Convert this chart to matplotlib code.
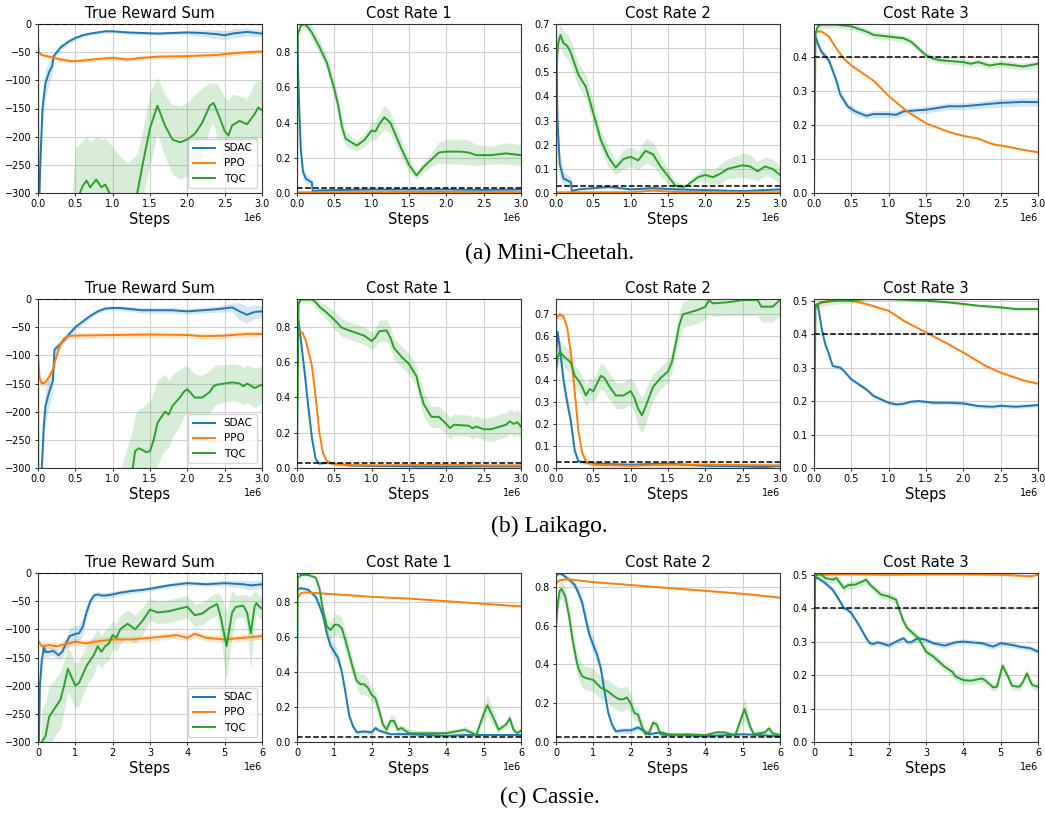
import matplotlib
matplotlib.use('Agg')
import matplotlib.pyplot as plt
from matplotlib.ticker import MultipleLocator

# Schritte in Millionen, Mittelwert und halbe Bandbreite

# --- (a) Mini-Cheetah ---
mc_rew_sdac_x = [0, 0.03, 0.06, 0.1, 0.15, 0.19, 0.21, 0.3, 0.4, 0.5, 0.6, 0.7, 0.8, 0.9, 1.0, 1.2, 1.4, 1.6, 1.8, 2.0, 2.2, 2.4, 2.5, 2.6, 2.8, 3.0]
mc_rew_sdac_y = [-400, -250, -150, -105, -85, -75, -57, -42, -32, -25, -20, -17, -15, -13, -13, -15, -16, -17, -16, -15, -16, -18, -20, -17, -14, -17]
mc_rew_sdac_b = [40, 40, 30, 25, 20, 15, 6, 6, 5, 4, 3, 3, 3, 3, 3, 3, 3, 3, 3, 4, 6, 8, 8, 8, 7, 6]
mc_rew_ppo_x = [0, 0.01, 0.05, 0.15, 0.3, 0.45, 0.6, 0.8, 1.0, 1.2, 1.4, 1.6, 2.0, 2.4, 2.6, 2.8, 3.0]
mc_rew_ppo_y = [-35, -50, -55, -58, -63, -66, -65, -62, -60, -63, -60, -58, -57, -55, -52, -50, -49]
mc_rew_ppo_b = 4
mc_rew_tqc_x = [0, 0.005, 0.45, 0.5, 0.6, 0.65, 0.7, 0.78, 0.85, 0.9, 0.95, 1.0, 1.1, 1.2, 1.33, 1.4, 1.5, 1.6, 1.7, 1.8, 1.9, 2.0, 2.1, 2.2, 2.3, 2.35, 2.4, 2.5, 2.55, 2.6, 2.7, 2.8, 2.9, 2.95, 3.0]
mc_rew_tqc_y = [0, -420, -420, -320, -287, -278, -290, -276, -290, -285, -298, -310, -330, -330, -300, -250, -185, -145, -180, -205, -210, -205, -195, -175, -145, -140, -155, -190, -198, -180, -172, -178, -160, -148, -153]
mc_rew_tqc_b = [0, 100, 100, 100, 80, 78, 80, 76, 85, 85, 88, 92, 95, 82, 70, 60, 65, 50, 55, 62, 65, 65, 70, 62, 40, 35, 50, 60, 62, 55, 45, 45, 55, 50, 50]

mc_c1_sdac_x = [0, 0.02, 0.05, 0.08, 0.12, 0.2, 0.21, 0.3, 1.0, 1.5, 2.0, 2.5, 3.0]
mc_c1_sdac_y = [0.96, 0.6, 0.25, 0.12, 0.08, 0.06, 0.01, 0.015, 0.02, 0.02, 0.02, 0.018, 0.02]
mc_c1_sdac_b = [0.0, 0.05, 0.05, 0.04, 0.03, 0.02, 0.005, 0.005, 0.008, 0.008, 0.005, 0.005, 0.008]
mc_c1_ppo_x = [0, 1.0, 2.0, 3.0]
mc_c1_ppo_y = [0.004, 0.005, 0.006, 0.005]
mc_c1_ppo_b = 0.002
mc_c1_tqc_x = [0, 0.01, 0.05, 0.1, 0.15, 0.2, 0.3, 0.4, 0.5, 0.55, 0.6, 0.65, 0.7, 0.8, 0.9, 1.0, 1.05, 1.1, 1.17, 1.25, 1.3, 1.4, 1.5, 1.6, 1.7, 1.8, 1.9, 2.0, 2.2, 2.3, 2.4, 2.6, 2.8, 3.0]
mc_c1_tqc_y = [0, 0.9, 0.95, 0.96, 0.94, 0.91, 0.83, 0.74, 0.59, 0.5, 0.38, 0.31, 0.295, 0.27, 0.3, 0.355, 0.35, 0.39, 0.43, 0.4, 0.35, 0.25, 0.16, 0.1, 0.15, 0.19, 0.23, 0.235, 0.235, 0.23, 0.215, 0.215, 0.225, 0.215]
mc_c1_tqc_b = [0, 0.02, 0.02, 0.02, 0.03, 0.04, 0.04, 0.04, 0.05, 0.05, 0.05, 0.04, 0.04, 0.03, 0.04, 0.05, 0.05, 0.06, 0.07, 0.06, 0.06, 0.05, 0.04, 0.02, 0.03, 0.04, 0.06, 0.07, 0.07, 0.07, 0.06, 0.05, 0.06, 0.06]

mc_c2_sdac_x = [0, 0.02, 0.05, 0.1, 0.2, 0.21, 0.3, 0.7, 0.8, 1.0, 1.3, 1.6, 2.0, 2.5, 3.0]
mc_c2_sdac_y = [0.7, 0.3, 0.12, 0.06, 0.045, 0.008, 0.015, 0.025, 0.022, 0.015, 0.02, 0.015, 0.012, 0.008, 0.015]
mc_c2_sdac_b = [0, 0.05, 0.05, 0.03, 0.02, 0.005, 0.005, 0.006, 0.006, 0.006, 0.008, 0.006, 0.005, 0.005, 0.005]
mc_c2_ppo_x = [0, 1.0, 1.3, 1.6, 3.0]
mc_c2_ppo_y = [0.003, 0.003, 0.01, 0.004, 0.003]
mc_c2_ppo_b = 0.002
mc_c2_tqc_x = [0, 0.01, 0.03, 0.06, 0.1, 0.15, 0.2, 0.3, 0.4, 0.5, 0.6, 0.7, 0.8, 0.9, 1.0, 1.1, 1.2, 1.3, 1.4, 1.5, 1.6, 1.7, 1.75, 1.9, 2.0, 2.1, 2.2, 2.3, 2.5, 2.6, 2.7, 2.8, 2.9, 3.0]
mc_c2_tqc_y = [0, 0.55, 0.62, 0.655, 0.62, 0.61, 0.58, 0.49, 0.44, 0.33, 0.22, 0.15, 0.105, 0.14, 0.15, 0.135, 0.175, 0.16, 0.11, 0.07, 0.03, 0.025, 0.03, 0.065, 0.075, 0.065, 0.08, 0.1, 0.115, 0.11, 0.09, 0.11, 0.1, 0.075]
mc_c2_tqc_b = [0, 0.04, 0.05, 0.05, 0.05, 0.05, 0.05, 0.05, 0.05, 0.05, 0.04, 0.04, 0.03, 0.04, 0.04, 0.04, 0.05, 0.05, 0.04, 0.03, 0.02, 0.01, 0.01, 0.02, 0.03, 0.03, 0.04, 0.04, 0.05, 0.05, 0.04, 0.04, 0.04, 0.04]

mc_c3_sdac_x = [0, 0.05, 0.1, 0.2, 0.3, 0.35, 0.45, 0.55, 0.7, 0.8, 1.0, 1.1, 1.2, 1.5, 1.8, 2.0, 2.5, 2.8, 3.0]
mc_c3_sdac_y = [0.475, 0.44, 0.415, 0.39, 0.33, 0.29, 0.255, 0.24, 0.227, 0.232, 0.232, 0.23, 0.24, 0.245, 0.255, 0.255, 0.265, 0.268, 0.267]
mc_c3_sdac_b = [0.005, 0.01, 0.01, 0.012, 0.012, 0.012, 0.012, 0.01, 0.01, 0.01, 0.01, 0.01, 0.01, 0.01, 0.01, 0.01, 0.012, 0.012, 0.012]
mc_c3_ppo_x = [0, 0.05, 0.1, 0.2, 0.3, 0.4, 0.5, 0.7, 0.8, 1.0, 1.25, 1.5, 1.8, 2.0, 2.2, 2.4, 2.6, 2.8, 3.0]
mc_c3_ppo_y = [0.47, 0.475, 0.475, 0.46, 0.425, 0.395, 0.375, 0.345, 0.33, 0.285, 0.24, 0.205, 0.18, 0.168, 0.16, 0.143, 0.136, 0.127, 0.12]
mc_c3_ppo_b = 0.003
mc_c3_tqc_x = [0, 0.02, 0.05, 0.1, 0.3, 0.5, 0.7, 0.8, 1.0, 1.2, 1.3, 1.4, 1.5, 1.6, 1.7, 2.0, 2.1, 2.2, 2.35, 2.5, 2.7, 2.8, 3.0]
mc_c3_tqc_y = [0, 0.47, 0.49, 0.495, 0.495, 0.49, 0.475, 0.465, 0.46, 0.455, 0.445, 0.425, 0.405, 0.395, 0.39, 0.385, 0.38, 0.385, 0.375, 0.38, 0.375, 0.372, 0.38]
mc_c3_tqc_b = 0.01

# --- (b) Laikago ---
lk_rew_sdac_x = [0, 0.05, 0.08, 0.1, 0.15, 0.2, 0.22, 0.3, 0.4, 0.5, 0.6, 0.7, 0.8, 0.9, 1.0, 1.1, 1.4, 1.6, 1.8, 2.0, 2.2, 2.4, 2.6, 2.7, 2.8, 2.9, 3.0]
lk_rew_sdac_y = [-400, -300, -220, -190, -165, -145, -90, -80, -65, -50, -40, -30, -22, -17, -16, -16, -20, -20, -20, -22, -20, -18, -15, -22, -28, -23, -22]
lk_rew_sdac_b = [30, 30, 30, 30, 25, 20, 8, 7, 6, 5, 5, 4, 4, 4, 4, 4, 5, 5, 5, 5, 5, 5, 8, 15, 15, 12, 10]
lk_rew_ppo_x = [0, 0.02, 0.05, 0.1, 0.15, 0.2, 0.25, 0.3, 0.35, 0.4, 0.5, 1.0, 1.5, 2.0, 2.2, 2.5, 2.8, 3.0]
lk_rew_ppo_y = [-100, -140, -150, -148, -138, -125, -100, -80, -70, -66, -65, -64, -63, -64, -66, -65, -62, -62]
lk_rew_ppo_b = [10, 10, 8, 8, 8, 8, 8, 6, 5, 5, 5, 5, 5, 5, 5, 5, 5, 5]
lk_rew_tqc_x = [0, 0.005, 0.8, 1.1, 1.27, 1.3, 1.35, 1.4, 1.45, 1.5, 1.55, 1.6, 1.7, 1.75, 1.8, 1.9, 1.95, 2.0, 2.1, 2.2, 2.3, 2.35, 2.4, 2.5, 2.6, 2.7, 2.75, 2.8, 2.9, 3.0]
lk_rew_tqc_y = [0, -450, -420, -380, -300, -270, -265, -268, -272, -270, -250, -220, -200, -205, -190, -175, -165, -160, -175, -175, -165, -155, -152, -150, -148, -150, -155, -150, -158, -152]
lk_rew_tqc_b = [0, 60, 60, 75, 70, 65, 70, 75, 85, 90, 85, 75, 67, 60, 55, 50, 45, 42, 42, 40, 38, 36, 35, 33, 33, 33, 33, 33, 35, 33]

lk_c1_sdac_x = [0, 0.03, 0.1, 0.15, 0.2, 0.25, 0.3, 0.4, 0.5, 0.7, 1.0, 1.5, 2.0, 2.5, 3.0]
lk_c1_sdac_y = [0.9, 0.8, 0.55, 0.35, 0.17, 0.05, 0.025, 0.03, 0.025, 0.015, 0.012, 0.01, 0.008, 0.01, 0.01]
lk_c1_sdac_b = [0.02, 0.03, 0.04, 0.04, 0.03, 0.02, 0.008, 0.008, 0.008, 0.005, 0.005, 0.005, 0.005, 0.005, 0.005]
lk_c1_ppo_x = [0, 0.03, 0.07, 0.12, 0.2, 0.25, 0.3, 0.35, 0.4, 0.5, 1.0, 2.0, 2.5, 3.0]
lk_c1_ppo_y = [0.75, 0.77, 0.77, 0.72, 0.58, 0.4, 0.2, 0.08, 0.04, 0.02, 0.015, 0.018, 0.015, 0.015]
lk_c1_ppo_b = 0.01
lk_c1_tqc_x = [0, 0.02, 0.05, 0.2, 0.25, 0.3, 0.4, 0.5, 0.6, 0.7, 0.8, 0.9, 1.0, 1.05, 1.1, 1.2, 1.25, 1.3, 1.4, 1.5, 1.6, 1.65, 1.7, 1.8, 1.9, 2.0, 2.05, 2.1, 2.3, 2.35, 2.4, 2.5, 2.6, 2.8, 2.85, 2.9, 2.95, 3.0]
lk_c1_tqc_y = [0, 0.93, 0.955, 0.955, 0.94, 0.915, 0.88, 0.84, 0.795, 0.78, 0.765, 0.75, 0.72, 0.74, 0.775, 0.78, 0.74, 0.68, 0.63, 0.59, 0.52, 0.43, 0.36, 0.29, 0.29, 0.25, 0.225, 0.245, 0.24, 0.225, 0.235, 0.22, 0.22, 0.245, 0.265, 0.25, 0.26, 0.235]
lk_c1_tqc_b = [0, 0.02, 0.02, 0.02, 0.03, 0.03, 0.04, 0.05, 0.05, 0.05, 0.05, 0.05, 0.05, 0.05, 0.06, 0.06, 0.06, 0.06, 0.06, 0.06, 0.06, 0.07, 0.07, 0.06, 0.06, 0.06, 0.06, 0.06, 0.06, 0.06, 0.06, 0.06, 0.07, 0.07, 0.07, 0.07, 0.07, 0.07]

lk_c2_sdac_x = [0, 0.02, 0.05, 0.1, 0.15, 0.2, 0.25, 0.3, 0.4, 0.5, 1.0, 1.5, 2.0, 2.5, 2.8, 3.0]
lk_c2_sdac_y = [0.5, 0.62, 0.55, 0.4, 0.3, 0.21, 0.08, 0.03, 0.025, 0.02, 0.015, 0.02, 0.01, 0.008, 0.005, 0.01]
lk_c2_sdac_b = [0.03, 0.03, 0.04, 0.04, 0.04, 0.03, 0.02, 0.01, 0.01, 0.008, 0.005, 0.005, 0.005, 0.005, 0.005, 0.005]
lk_c2_ppo_x = [0, 0.05, 0.1, 0.15, 0.2, 0.25, 0.3, 0.35, 0.4, 0.5, 1.0, 1.5, 2.0, 3.0]
lk_c2_ppo_y = [0.68, 0.7, 0.69, 0.64, 0.52, 0.35, 0.17, 0.07, 0.03, 0.015, 0.01, 0.015, 0.015, 0.012]
lk_c2_ppo_b = 0.015
lk_c2_tqc_x = [0, 0.02, 0.05, 0.1, 0.2, 0.25, 0.3, 0.35, 0.4, 0.45, 0.5, 0.6, 0.65, 0.7, 0.8, 0.9, 1.0, 1.05, 1.1, 1.15, 1.2, 1.3, 1.4, 1.5, 1.55, 1.6, 1.65, 1.7, 1.8, 1.9, 2.0, 2.05, 2.1, 2.3, 2.5, 2.7, 2.75, 2.9, 3.0]
lk_c2_tqc_y = [0.44, 0.5, 0.53, 0.51, 0.48, 0.42, 0.4, 0.37, 0.33, 0.36, 0.35, 0.42, 0.41, 0.38, 0.33, 0.33, 0.35, 0.32, 0.27, 0.24, 0.28, 0.37, 0.41, 0.44, 0.48, 0.56, 0.65, 0.7, 0.71, 0.72, 0.735, 0.765, 0.75, 0.755, 0.765, 0.765, 0.735, 0.735, 0.765]
lk_c2_tqc_b = [0.04, 0.04, 0.05, 0.05, 0.05, 0.05, 0.05, 0.05, 0.05, 0.05, 0.05, 0.06, 0.06, 0.06, 0.06, 0.06, 0.06, 0.07, 0.08, 0.08, 0.08, 0.06, 0.05, 0.05, 0.05, 0.05, 0.06, 0.06, 0.06, 0.06, 0.06, 0.06, 0.06, 0.06, 0.07, 0.07, 0.07, 0.07, 0.07]

lk_c3_sdac_x = [0, 0.05, 0.1, 0.15, 0.2, 0.25, 0.35, 0.4, 0.5, 0.6, 0.7, 0.8, 0.9, 1.0, 1.1, 1.2, 1.3, 1.4, 1.6, 1.8, 2.0, 2.2, 2.4, 2.5, 2.7, 3.0]
lk_c3_sdac_y = [0.485, 0.49, 0.42, 0.37, 0.34, 0.305, 0.3, 0.29, 0.265, 0.25, 0.235, 0.215, 0.205, 0.195, 0.19, 0.192, 0.198, 0.2, 0.195, 0.195, 0.193, 0.185, 0.183, 0.186, 0.183, 0.188]
lk_c3_sdac_b = 0.006
lk_c3_ppo_x = [0, 0.1, 0.3, 0.5, 0.7, 1.0, 1.2, 1.5, 1.8, 2.0, 2.3, 2.5, 2.8, 3.0]
lk_c3_ppo_y = [0.48, 0.495, 0.505, 0.5, 0.49, 0.47, 0.44, 0.405, 0.37, 0.345, 0.305, 0.285, 0.262, 0.252]
lk_c3_ppo_b = 0.004
lk_c3_tqc_x = [0, 0.02, 0.05, 0.1, 0.3, 0.5, 0.7, 1.0, 1.5, 1.8, 2.0, 2.2, 2.5, 2.7, 3.0]
lk_c3_tqc_y = [0, 0.48, 0.49, 0.495, 0.5, 0.5, 0.505, 0.505, 0.5, 0.495, 0.49, 0.485, 0.48, 0.475, 0.475]
lk_c3_tqc_b = [0, 0.01, 0.012, 0.012, 0.01, 0.008, 0.005, 0.004, 0.004, 0.004, 0.004, 0.004, 0.005, 0.006, 0.006]

# --- (c) Cassie ---
cs_rew_sdac_x = [0, 0.05, 0.1, 0.16, 0.2, 0.3, 0.4, 0.5, 0.55, 0.65, 0.75, 0.85, 1.0, 1.1, 1.2, 1.3, 1.4, 1.5, 1.6, 1.7, 1.8, 2.0, 2.2, 2.5, 2.8, 3.0, 3.5, 4.0, 4.5, 5.0, 5.5, 5.7, 6.0]
cs_rew_sdac_y = [-400, -200, -155, -133, -140, -140, -138, -143, -146, -140, -125, -112, -108, -107, -95, -70, -50, -40, -38, -40, -40, -38, -35, -32, -30, -28, -22, -18, -20, -18, -20, -22, -20]
cs_rew_sdac_b = [30, 30, 25, 15, 10, 8, 8, 8, 8, 10, 12, 15, 15, 15, 15, 12, 8, 5, 5, 5, 5, 5, 5, 5, 4, 4, 4, 4, 4, 5, 7, 8, 7]
cs_rew_ppo_x = [0, 0.1, 0.3, 0.5, 0.7, 1.0, 1.3, 1.5, 2.0, 2.5, 3.0, 3.5, 3.7, 4.0, 4.2, 4.5, 5.0, 5.5, 6.0]
cs_rew_ppo_y = [-120, -130, -128, -130, -127, -122, -125, -122, -118, -118, -115, -112, -110, -115, -108, -115, -118, -115, -112]
cs_rew_ppo_b = 6
cs_rew_tqc_x = [0, 0.005, 0.1, 0.2, 0.3, 0.4, 0.5, 0.6, 0.7, 0.8, 0.9, 1.0, 1.1, 1.3, 1.4, 1.5, 1.6, 1.7, 1.8, 1.9, 2.0, 2.1, 2.2, 2.4, 2.6, 2.8, 3.0, 3.2, 3.5, 3.8, 4.0, 4.2, 4.4, 4.6, 4.8, 4.9, 5.05, 5.2, 5.3, 5.5, 5.6, 5.7, 5.8, 5.85, 5.9, 6.0]
cs_rew_tqc_y = [0, -400, -300, -290, -255, -245, -235, -225, -200, -170, -185, -200, -195, -165, -155, -145, -130, -140, -130, -125, -110, -115, -100, -90, -100, -85, -65, -70, -68, -63, -60, -75, -72, -62, -55, -80, -130, -70, -60, -58, -70, -107, -60, -53, -58, -63]
cs_rew_tqc_b = [0, 40, 60, 60, 55, 50, 50, 50, 45, 40, 40, 40, 40, 35, 35, 35, 30, 30, 30, 30, 25, 25, 25, 25, 25, 25, 20, 20, 20, 20, 20, 20, 20, 20, 20, 40, 60, 40, 20, 20, 30, 65, 30, 20, 20, 20]

cs_c1_sdac_x = [0, 0.1, 0.3, 0.5, 0.6, 0.7, 0.8, 0.9, 1.1, 1.2, 1.3, 1.4, 1.5, 1.6, 1.8, 2.0, 2.1, 2.2, 2.5, 3.0, 3.5, 4.0, 4.5, 5.0, 5.5, 6.0]
cs_c1_sdac_y = [0.87, 0.88, 0.87, 0.83, 0.78, 0.72, 0.62, 0.55, 0.48, 0.4, 0.28, 0.15, 0.09, 0.055, 0.06, 0.055, 0.08, 0.065, 0.045, 0.045, 0.04, 0.035, 0.04, 0.04, 0.04, 0.04]
cs_c1_sdac_b = [0.01, 0.01, 0.01, 0.02, 0.03, 0.04, 0.04, 0.04, 0.04, 0.03, 0.03, 0.02, 0.015, 0.015, 0.015, 0.015, 0.015, 0.01, 0.01, 0.008, 0.008, 0.008, 0.008, 0.008, 0.008, 0.008]
cs_c1_ppo_x = [0, 0.1, 0.2, 1.0, 2.0, 3.0, 4.0, 5.0, 6.0]
cs_c1_ppo_y = [0.82, 0.85, 0.855, 0.845, 0.83, 0.82, 0.805, 0.79, 0.775]
cs_c1_ppo_b = 0.004
cs_c1_tqc_x = [0, 0.02, 0.1, 0.3, 0.5, 0.6, 0.7, 0.8, 0.9, 1.0, 1.1, 1.2, 1.3, 1.4, 1.5, 1.6, 1.7, 1.8, 1.9, 2.0, 2.1, 2.2, 2.3, 2.4, 2.5, 2.6, 2.7, 2.8, 3.0, 3.5, 4.0, 4.5, 4.8, 5.0, 5.1, 5.3, 5.4, 5.6, 5.7, 5.8, 5.9, 6.0]
cs_c1_tqc_y = [0, 0.94, 0.955, 0.955, 0.94, 0.88, 0.75, 0.66, 0.64, 0.67, 0.67, 0.65, 0.58, 0.5, 0.42, 0.35, 0.33, 0.33, 0.31, 0.27, 0.25, 0.18, 0.1, 0.07, 0.12, 0.12, 0.07, 0.08, 0.05, 0.05, 0.05, 0.07, 0.04, 0.16, 0.21, 0.12, 0.07, 0.1, 0.135, 0.07, 0.05, 0.065]
cs_c1_tqc_b = [0, 0.01, 0.01, 0.01, 0.01, 0.02, 0.03, 0.04, 0.05, 0.06, 0.06, 0.06, 0.06, 0.06, 0.05, 0.05, 0.06, 0.06, 0.05, 0.04, 0.04, 0.04, 0.03, 0.03, 0.03, 0.03, 0.02, 0.02, 0.02, 0.015, 0.015, 0.02, 0.015, 0.04, 0.06, 0.04, 0.02, 0.02, 0.03, 0.02, 0.02, 0.02]

cs_c2_sdac_x = [0, 0.1, 0.2, 0.4, 0.5, 0.6, 0.7, 0.8, 0.9, 1.0, 1.1, 1.2, 1.3, 1.4, 1.5, 1.6, 1.8, 2.0, 2.2, 2.5, 2.8, 3.0, 3.5, 4.0, 4.5, 5.0, 5.5, 6.0]
cs_c2_sdac_y = [0.86, 0.87, 0.86, 0.83, 0.81, 0.77, 0.72, 0.63, 0.55, 0.5, 0.45, 0.38, 0.26, 0.15, 0.09, 0.055, 0.06, 0.06, 0.075, 0.04, 0.05, 0.04, 0.035, 0.03, 0.035, 0.04, 0.035, 0.03]
cs_c2_sdac_b = [0.01, 0.01, 0.01, 0.02, 0.02, 0.03, 0.04, 0.04, 0.04, 0.04, 0.04, 0.03, 0.03, 0.02, 0.015, 0.015, 0.015, 0.015, 0.015, 0.01, 0.01, 0.008, 0.008, 0.008, 0.008, 0.008, 0.008, 0.008]
cs_c2_ppo_x = [0, 0.1, 0.3, 1.0, 2.0, 3.0, 4.0, 5.0, 6.0]
cs_c2_ppo_y = [0.82, 0.835, 0.84, 0.825, 0.81, 0.795, 0.78, 0.765, 0.745]
cs_c2_ppo_b = 0.004
cs_c2_tqc_x = [0, 0.05, 0.1, 0.15, 0.25, 0.35, 0.45, 0.55, 0.6, 0.7, 0.8, 1.0, 1.1, 1.2, 1.4, 1.6, 1.7, 1.8, 1.9, 2.0, 2.1, 2.2, 2.3, 2.4, 2.5, 2.6, 2.7, 2.8, 3.0, 3.5, 4.0, 4.3, 4.5, 4.8, 5.05, 5.2, 5.3, 5.6, 5.7, 5.8, 6.0]
cs_c2_tqc_y = [0.6, 0.72, 0.78, 0.79, 0.75, 0.65, 0.52, 0.42, 0.38, 0.34, 0.33, 0.32, 0.3, 0.28, 0.26, 0.23, 0.22, 0.22, 0.23, 0.2, 0.15, 0.14, 0.08, 0.04, 0.05, 0.1, 0.09, 0.04, 0.035, 0.04, 0.035, 0.05, 0.05, 0.035, 0.17, 0.08, 0.04, 0.05, 0.07, 0.045, 0.035]
cs_c2_tqc_b = [0.05, 0.05, 0.05, 0.05, 0.05, 0.05, 0.06, 0.06, 0.06, 0.06, 0.06, 0.06, 0.06, 0.06, 0.06, 0.06, 0.06, 0.06, 0.06, 0.05, 0.04, 0.04, 0.03, 0.02, 0.02, 0.02, 0.02, 0.015, 0.01, 0.01, 0.01, 0.01, 0.01, 0.01, 0.06, 0.03, 0.015, 0.015, 0.02, 0.015, 0.015]

cs_c3_sdac_x = [0, 0.1, 0.3, 0.5, 0.7, 0.8, 0.9, 1.0, 1.2, 1.4, 1.5, 1.6, 1.7, 1.8, 2.0, 2.2, 2.4, 2.5, 2.6, 2.7, 2.8, 3.0, 3.2, 3.5, 3.8, 4.0, 4.5, 4.8, 5.0, 5.3, 5.5, 5.8, 6.0]
cs_c3_sdac_y = [0.49, 0.49, 0.475, 0.455, 0.42, 0.4, 0.395, 0.385, 0.35, 0.31, 0.295, 0.293, 0.298, 0.295, 0.288, 0.3, 0.31, 0.298, 0.298, 0.305, 0.31, 0.305, 0.295, 0.288, 0.298, 0.3, 0.295, 0.285, 0.295, 0.29, 0.285, 0.28, 0.27]
cs_c3_sdac_b = 0.008
cs_c3_ppo_x = [0, 0.05, 0.5, 1.0, 2.0, 3.0, 4.0, 5.0, 5.5, 5.8, 6.0]
cs_c3_ppo_y = [0.49, 0.5, 0.502, 0.502, 0.5, 0.502, 0.502, 0.5, 0.497, 0.495, 0.5]
cs_c3_ppo_b = 0.004
cs_c3_tqc_x = [0, 0.03, 0.1, 0.2, 0.3, 0.5, 0.6, 0.7, 0.8, 0.9, 1.0, 1.1, 1.3, 1.4, 1.5, 1.7, 1.8, 2.0, 2.2, 2.3, 2.4, 2.5, 2.6, 2.8, 2.9, 3.0, 3.2, 3.5, 3.7, 3.8, 4.0, 4.2, 4.5, 4.6, 4.8, 4.9, 5.05, 5.2, 5.3, 5.5, 5.6, 5.7, 5.8, 5.85, 6.0]
cs_c3_tqc_y = [0, 0.49, 0.505, 0.5, 0.49, 0.485, 0.49, 0.475, 0.46, 0.468, 0.47, 0.47, 0.48, 0.485, 0.47, 0.45, 0.44, 0.435, 0.425, 0.39, 0.36, 0.34, 0.33, 0.31, 0.29, 0.27, 0.255, 0.225, 0.21, 0.195, 0.185, 0.183, 0.19, 0.183, 0.163, 0.165, 0.228, 0.195, 0.168, 0.165, 0.18, 0.205, 0.18, 0.17, 0.165]
cs_c3_tqc_b = 0.012

algos = ['SDAC', 'PPO', 'TQC']
farben = ['tab:blue', 'tab:orange', 'tab:green']
titel = ['True Reward Sum', 'Cost Rate 1', 'Cost Rate 2', 'Cost Rate 3']
captions = ['(a) Mini-Cheetah.', '(b) Laikago.', '(c) Cassie.']
x_max = [3.0, 3.0, 6.0]
y_lim = [[(-300, 0), (0, 0.96), (0, 0.70), (0, 0.497)],
         [(-300, 0), (0, 0.958), (0, 0.77), (0, 0.505)],
         [(-300, 0), (0, 0.966), (0, 0.872), (0, 0.505)]]
y_step = [[50, 0.2, 0.1, 0.1], [50, 0.2, 0.1, 0.1], [50, 0.2, 0.2, 0.1]]
grenze = [0, 0.028, 0.028, 0.4]

panels = [
    [[(mc_rew_sdac_x, mc_rew_sdac_y, mc_rew_sdac_b), (mc_rew_ppo_x, mc_rew_ppo_y, mc_rew_ppo_b), (mc_rew_tqc_x, mc_rew_tqc_y, mc_rew_tqc_b)],
     [(mc_c1_sdac_x, mc_c1_sdac_y, mc_c1_sdac_b), (mc_c1_ppo_x, mc_c1_ppo_y, mc_c1_ppo_b), (mc_c1_tqc_x, mc_c1_tqc_y, mc_c1_tqc_b)],
     [(mc_c2_sdac_x, mc_c2_sdac_y, mc_c2_sdac_b), (mc_c2_ppo_x, mc_c2_ppo_y, mc_c2_ppo_b), (mc_c2_tqc_x, mc_c2_tqc_y, mc_c2_tqc_b)],
     [(mc_c3_sdac_x, mc_c3_sdac_y, mc_c3_sdac_b), (mc_c3_ppo_x, mc_c3_ppo_y, mc_c3_ppo_b), (mc_c3_tqc_x, mc_c3_tqc_y, mc_c3_tqc_b)]],
    [[(lk_rew_sdac_x, lk_rew_sdac_y, lk_rew_sdac_b), (lk_rew_ppo_x, lk_rew_ppo_y, lk_rew_ppo_b), (lk_rew_tqc_x, lk_rew_tqc_y, lk_rew_tqc_b)],
     [(lk_c1_sdac_x, lk_c1_sdac_y, lk_c1_sdac_b), (lk_c1_ppo_x, lk_c1_ppo_y, lk_c1_ppo_b), (lk_c1_tqc_x, lk_c1_tqc_y, lk_c1_tqc_b)],
     [(lk_c2_sdac_x, lk_c2_sdac_y, lk_c2_sdac_b), (lk_c2_ppo_x, lk_c2_ppo_y, lk_c2_ppo_b), (lk_c2_tqc_x, lk_c2_tqc_y, lk_c2_tqc_b)],
     [(lk_c3_sdac_x, lk_c3_sdac_y, lk_c3_sdac_b), (lk_c3_ppo_x, lk_c3_ppo_y, lk_c3_ppo_b), (lk_c3_tqc_x, lk_c3_tqc_y, lk_c3_tqc_b)]],
    [[(cs_rew_sdac_x, cs_rew_sdac_y, cs_rew_sdac_b), (cs_rew_ppo_x, cs_rew_ppo_y, cs_rew_ppo_b), (cs_rew_tqc_x, cs_rew_tqc_y, cs_rew_tqc_b)],
     [(cs_c1_sdac_x, cs_c1_sdac_y, cs_c1_sdac_b), (cs_c1_ppo_x, cs_c1_ppo_y, cs_c1_ppo_b), (cs_c1_tqc_x, cs_c1_tqc_y, cs_c1_tqc_b)],
     [(cs_c2_sdac_x, cs_c2_sdac_y, cs_c2_sdac_b), (cs_c2_ppo_x, cs_c2_ppo_y, cs_c2_ppo_b), (cs_c2_tqc_x, cs_c2_tqc_y, cs_c2_tqc_b)],
     [(cs_c3_sdac_x, cs_c3_sdac_y, cs_c3_sdac_b), (cs_c3_ppo_x, cs_c3_ppo_y, cs_c3_ppo_b), (cs_c3_tqc_x, cs_c3_tqc_y, cs_c3_tqc_b)]],
]

W, H = 1045, 814
links = [38, 297, 556, 814]
oben = [24, 299, 573]
breite, hoehe = 224, 169
caption_y = [253, 526, 797]

fig = plt.figure(figsize=(W / 100, H / 100), dpi=100)

for r in range(3):
    for c in range(4):
        ax = fig.add_axes([links[c] / W, 1 - (oben[r] + hoehe) / H, breite / W, hoehe / H])
        for (xs, ys, bs), name, farbe in zip(panels[r][c], algos, farben):
            x = [v * 1e6 for v in xs]
            if isinstance(bs, (int, float)):
                bs = [bs] * len(ys)
            lo = [m - b for m, b in zip(ys, bs)]
            hi = [m + b for m, b in zip(ys, bs)]
            ax.fill_between(x, lo, hi, color=farbe, alpha=0.18, lw=0)
            ax.plot(x, ys, color=farbe, lw=1.4, label=name)
        ax.axhline(grenze[c], color='black', ls='--', lw=1.1, zorder=4)
        ax.set_xlim(0, x_max[r] * 1e6)
        ax.set_ylim(*y_lim[r][c])
        ax.yaxis.set_major_locator(MultipleLocator(y_step[r][c]))
        ax.xaxis.set_major_locator(MultipleLocator(0.5e6 if x_max[r] == 3.0 else 1e6))
        ax.grid(True, color='#d0d0d0', lw=0.8)
        ax.set_axisbelow(True)
        ax.tick_params(labelsize=7, length=2.5, width=0.6, pad=2)
        ax.xaxis.get_offset_text().set_fontsize(7)
        for s in ax.spines.values():
            s.set_color('#333333')
            s.set_linewidth(0.8)
        ax.set_title(titel[c], fontsize=10.6, pad=4)
        ax.set_xlabel('Steps', fontsize=10.5, labelpad=2)
        if c == 0:
            ax.legend(loc='lower right', fontsize=7.5, handlelength=2.2)
    fig.text(0.526, 1 - caption_y[r] / H, captions[r], ha='center', va='center',
             fontsize=17, family='Liberation Serif')

fig.savefig('out.png', dpi=100)
